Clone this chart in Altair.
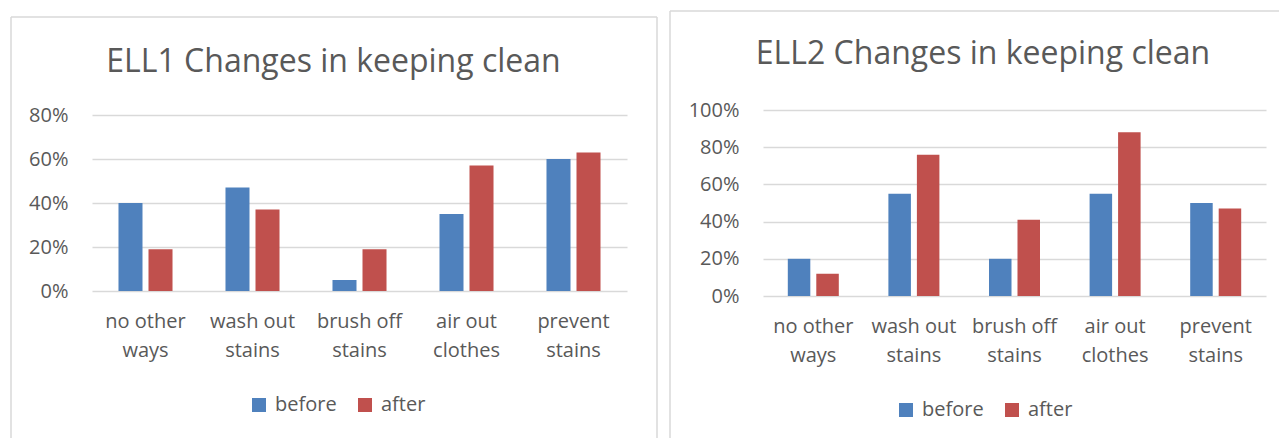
import altair as alt
import pandas as pd

# ---- data -------------------------------------------------------------
categories = ["no other ways", "wash out stains", "brush off stains",
              "air out clothes", "prevent stains"]
series = ["before", "after"]

ell1_before = [0.40, 0.47, 0.05, 0.35, 0.60]
ell1_after = [0.19, 0.37, 0.19, 0.57, 0.63]

ell2_before = [0.20, 0.55, 0.20, 0.55, 0.50]
ell2_after = [0.12, 0.76, 0.41, 0.88, 0.47]

titles = ["ELL1 Changes in keeping clean", "ELL2 Changes in keeping clean"]
ell1_ticks = [0.0, 0.2, 0.4, 0.6, 0.8]
ell2_ticks = [0.0, 0.2, 0.4, 0.6, 0.8, 1.0]

# ---- style ------------------------------------------------------------
FONT = "Open Sans"
TEXT = "#595959"
GRID = "#d9d9d9"
FRAME = "#d9d9d9"
COLORS = ["#4f81bd", "#c0504d"]

# split each category name before its last word -> two-line tick label
TWO_LINES = ("[slice(datum.label, 0, lastindexof(datum.label, ' ')), "
             "slice(datum.label, lastindexof(datum.label, ' ') + 1)]")

NO_STROKE = alt.ViewBackground(stroke="transparent", strokeWidth=0)


def long_table(before, after):
    rows = []
    for cat, b, a in zip(categories, before, after):
        rows.append({"category": cat, "series": "before", "share": b})
        rows.append({"category": cat, "series": "after", "share": a})
    return pd.DataFrame(rows)


def frame_edge(**enc):
    """One straight edge of the chart-area frame (pixel positions)."""
    return (alt.Chart(alt.Data(values=[{}]))
            .mark_rule(color=FRAME, strokeWidth=1.5)
            .encode(**{k: alt.value(v) for k, v in enc.items()}))


def panel(title, before, after, ticks, width, height, y_range, band_pad,
          offset_pad, title_pos, legend_pos, edges):
    df = long_table(before, after)

    bars = alt.Chart(df).mark_bar().encode(
        x=alt.X("category:N", sort=categories, title=None,
                scale=alt.Scale(paddingInner=band_pad,
                                paddingOuter=band_pad / 2),
                axis=alt.Axis(labelExpr=TWO_LINES, labelAngle=0,
                              labelPadding=20, labelLineHeight=29,
                              labelFontSize=20, labelColor=TEXT,
                              labelFont=FONT, labelLimit=300,
                              domain=False, ticks=False, grid=False)),
        xOffset=alt.XOffset("series:N", sort=series,
                            scale=alt.Scale(paddingInner=offset_pad,
                                            paddingOuter=0)),
        y=alt.Y("share:Q", title=None,
                scale=alt.Scale(domain=[0, ticks[-1]], range=y_range,
                                nice=False),
                axis=alt.Axis(values=ticks, format=".0%", domain=False,
                              ticks=False, grid=True, gridColor=GRID,
                              gridWidth=1.3, labelPadding=24,
                              labelFontSize=20, labelColor=TEXT,
                              labelFont=FONT)),
        color=alt.Color("series:N", sort=series,
                        scale=alt.Scale(domain=series, range=COLORS),
                        legend=alt.Legend(orient="none",
                                          direction="horizontal",
                                          legendX=legend_pos[0],
                                          legendY=legend_pos[1],
                                          title=None, symbolType="square",
                                          symbolSize=196,
                                          symbolStrokeWidth=0,
                                          labelFontSize=20,
                                          labelFont=FONT,
                                          labelColor=TEXT,
                                          labelOffset=6,
                                          columnPadding=18,
                                          padding=0)),
    )

    heading = (alt.Chart(alt.Data(values=[{"t": title}]))
               .mark_text(font=FONT, fontSize=32, color=TEXT,
                          align="center", baseline="alphabetic")
               .encode(text="t:N", x=alt.value(title_pos[0]),
                       y=alt.value(title_pos[1])))

    layers = [frame_edge(**e) for e in edges] + [bars, heading]
    return alt.layer(*layers).properties(width=width, height=height,
                                         view=NO_STROKE)


left = panel(
    titles[0], ell1_before, ell1_after, ell1_ticks,
    width=535, height=181, y_range=[181, 5],
    band_pad=0.495, offset_pad=0.2,
    title_pos=(241.5, -38), legend_pos=(157, 285),
    edges=[
        dict(x=-81, x2=565, y=-93),
        dict(x=-81, y=-93, y2=328),
        dict(x=565, y=-93, y2=328),
    ],
)

right = panel(
    titles[1], ell2_before, ell2_after, ell2_ticks,
    width=503, height=186, y_range=[186, 0],
    band_pad=0.493, offset_pad=0.21,
    title_pos=(220, -46), legend_pos=(133, 290),
    edges=[
        dict(x=-93, x2=516, y=-99),
        dict(x=-93, y=-99, y2=328),
    ],
)

chart = (
    alt.hconcat(left, right, spacing=11)
    .resolve_scale(x="independent", y="independent", color="independent",
                   xOffset="independent")
    .resolve_legend(color="independent")
    .properties(padding={"left": 10, "top": 10, "right": 0, "bottom": 0},
                background="white")
    .configure_view(strokeWidth=0, stroke="transparent")
    .configure_axisBand(grid=False)
    .configure_axisDiscrete(grid=False)
    .configure_axisX(grid=False)
    .configure(font=FONT)
)

chart.save("out.html", embed_options={"renderer": "svg", "actions": False})
